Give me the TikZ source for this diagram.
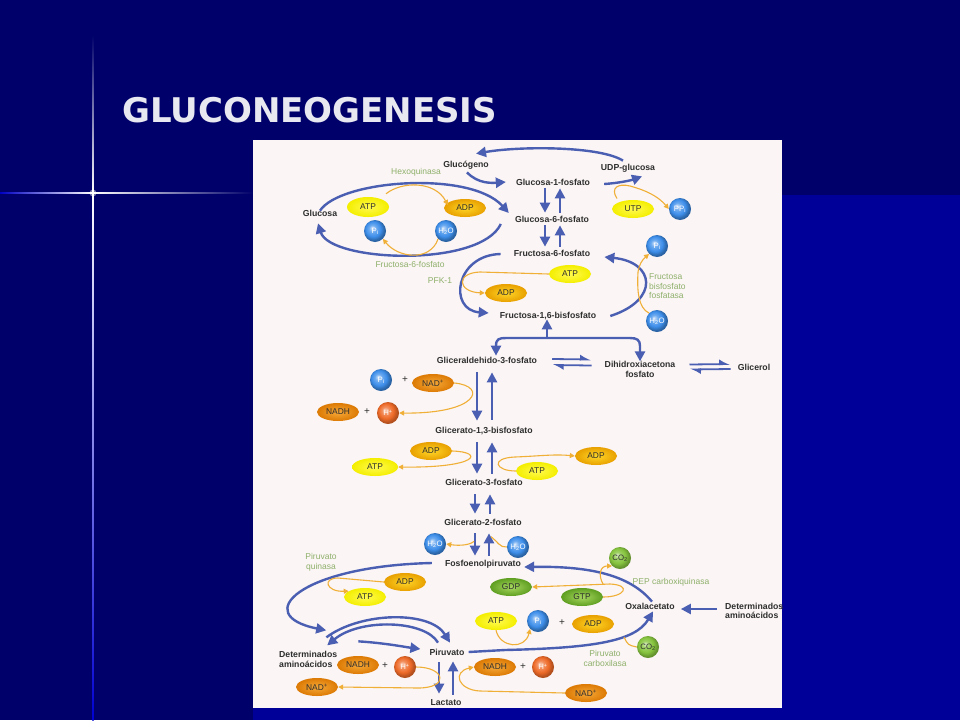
\documentclass[tikz,border=0pt]{standalone}
\usepackage{fontspec}
\setmainfont{Liberation Sans}
\newfontfamily\titlefont{DejaVu Sans}
\usetikzlibrary{arrows.meta,shapes.geometric,calc}
\definecolor{bgdark}{HTML}{00006A}
\definecolor{bgblue}{HTML}{000098}
\definecolor{panel}{HTML}{FBF5F5}
\definecolor{pathblue}{HTML}{4A5EB2}
\definecolor{orline}{HTML}{F0B038}
\definecolor{enzgreen}{HTML}{8EB06A}
\definecolor{mettext}{HTML}{2E2E2E}
\definecolor{atpyel}{HTML}{F4EE00}
\definecolor{atpin}{HTML}{FFFA50}
\definecolor{adpin}{HTML}{FFD628}
\definecolor{adpout}{HTML}{E8A000}
\definecolor{nadin}{HTML}{F6A838}
\definecolor{nadout}{HTML}{DC7A04}
\definecolor{grnin}{HTML}{A8D860}
\definecolor{grnout}{HTML}{5E9E20}
\definecolor{sphblue}{HTML}{3D8EEA}
\definecolor{sphred}{HTML}{EE6A28}
\definecolor{sphgreen}{HTML}{86C43E}
\definecolor{titletext}{HTML}{E8E8F0}
\pgfdeclareradialshading{sphB}{\pgfpoint{-7bp}{7bp}}{color(0bp)=(sphblue!25!white); color(8bp)=(sphblue!75!white); color(17bp)=(sphblue); color(25bp)=(sphblue!70!black); color(50bp)=(sphblue!70!black)}
\pgfdeclareradialshading{sphR}{\pgfpoint{-7bp}{7bp}}{color(0bp)=(sphred!30!white); color(8bp)=(sphred!75!white); color(17bp)=(sphred); color(25bp)=(sphred!75!black); color(50bp)=(sphred!75!black)}
\pgfdeclareradialshading{sphG}{\pgfpoint{-7bp}{7bp}}{color(0bp)=(sphgreen!30!white); color(8bp)=(sphgreen!80!white); color(17bp)=(sphgreen); color(25bp)=(sphgreen!75!black); color(50bp)=(sphgreen!75!black)}
\tikzset{
 met/.style={font=\fontsize{8.7}{9.5}\selectfont\bfseries, text=mettext, inner sep=1pt, text height=6.5pt, text depth=1.8pt},
 metml/.style={font=\fontsize{8.7}{9.5}\selectfont\bfseries, text=mettext, inner sep=1pt},
 enz/.style={font=\fontsize{8.5}{9.6}\selectfont, text=enzgreen, inner sep=1pt},
 oval/.style={ellipse, minimum width=42pt, minimum height=18pt, inner sep=0pt, font=\fontsize{8.4}{9}\selectfont, text=mettext},
 yel/.style={oval, inner color=atpin, outer color=atpyel},
 adp/.style={oval, inner color=adpin, outer color=adpout},
 nad/.style={oval, inner color=nadin, outer color=nadout},
 grn/.style={oval, inner color=grnin, outer color=grnout},
 sph/.style={circle, minimum size=22pt, inner sep=0pt, font=\fontsize{7.8}{9}\selectfont, text=white, shade},
 bsph/.style={sph, shading=sphB},
 hsph/.style={sph, shading=sphR},
 csph/.style={sph, shading=sphG, text=mettext},
 plus/.style={font=\fontsize{10}{11}\selectfont, text=mettext, inner sep=0pt},
 barrow/.style={draw=pathblue, line width=2.4pt, -{Triangle[length=10pt,width=10pt]}},
 bline/.style={draw=pathblue, line width=2.4pt},
 oarrow/.style={draw=orline, line width=1.1pt, -{Triangle[length=5pt,width=5pt]}},
 oline/.style={draw=orline, line width=1.1pt},
 harp/.style={draw=pathblue, line width=1.8pt, -{Latex[left,length=9pt,width=10pt]}}
}
\begin{document}
\begin{tikzpicture}[x=1pt,y=-1pt]
\useasboundingbox (0,0) rectangle (960,720);
% background
\fill[bgdark] (0,0) rectangle (960,720);
\fill[bgblue] (253,195) rectangle (960,720);
\shade[top color=bgdark, middle color=blue!60!white, bottom color=white] (92.4,35) rectangle (93.6,193);
\shade[top color=white, middle color=blue!55!white, bottom color=blue!70!bgdark] (92.4,193) rectangle (93.6,720);
\shade[left color=blue!60!bgdark, middle color=blue!55!white, right color=white] (0,192.4) rectangle (93,193.6);
\shade[left color=white, middle color=blue!55!white, right color=bgdark] (93,192.4) rectangle (253,193.6);
\fill[white, opacity=.45] (93,193) circle (3.5);
\fill[white] (93,193) circle (1.8);
% title
\node[anchor=base west, inner sep=0, font=\titlefont\bfseries\fontsize{34}{40}\selectfont, text=titletext] (title) at (122,122) {GLUCONEOGENESIS};
% panel
\fill[panel] (253,140) rectangle (782,708);

% metabolites
\node[met] (glycogen) at (466,165) {Glucógeno};
\node[met] (udpg) at (628,168) {UDP-glucosa};
\node[met] (g1p) at (553,183) {Glucosa-1-fosfato};
\node[met] (glc) at (320,214) {Glucosa};
\node[met] (g6p) at (552,220) {Glucosa-6-fosfato};
\node[met] (f6p) at (552,254) {Fructosa-6-fosfato};
\node[met] (f16bp) at (548,316) {Fructosa-1,6-bisfosfato};
\node[met] (gap) at (487,361) {Gliceraldehido-3-fosfato};
\node[metml, align=center] (dhap) at (640,369.5) {Dihidroxiacetona\\fosfato};
\node[met] (glycerol) at (754,368) {Glicerol};
\node[met] (bpg) at (484,431) {Glicerato-1,3-bisfosfato};
\node[met] (pg3) at (484,483) {Glicerato-3-fosfato};
\node[met] (pg2) at (483,523) {Glicerato-2-fosfato};
\node[met] (pep) at (483,564) {Fosfoenolpiruvato};
\node[met] (pyr) at (447,653) {Piruvato};
\node[met] (lac) at (446,703) {Lactato};
\node[met] (oaa) at (650,607) {Oxalacetato};
\node[metml, align=left, anchor=west] (aal) at (278,659.5) {Determinados\\aminoácidos};
\node[metml, align=left, anchor=west] (aar) at (724,611) {Determinados\\aminoácidos};

% enzymes
\node[enz] (hk) at (416,172) {Hexoquinasa};
\node[enz] (f6pase) at (410,264) {Fructosa-6-fosfato};
\node[enz] (pfk) at (440,281) {PFK-1};
\node[enz, align=left, anchor=west] (fbpase) at (648,286.5) {Fructosa\\bisfosfato\\fosfatasa};
\node[enz, align=center] (pk) at (321,562) {Piruvato\\quinasa};
\node[enz] (pepck) at (671,582) {PEP carboxiquinasa};
\node[enz, align=center] (pc) at (605,658.5) {Piruvato\\carboxilasa};

% cofactors
\node[yel, minimum height=20pt] (atp1) at (368,207) {ATP};
\node[adp] (adp1) at (465,208) {ADP};
\node[bsph] (pi1) at (375,231) {P\textsubscript{i}};
\node[bsph] (h2o1) at (446,231) {H\textsubscript{2}O};
\node[yel] (utp) at (633,209) {UTP};
\node[bsph] (ppi) at (680,209) {PP\textsubscript{i}};
\node[bsph] (pi2) at (657,246) {P\textsubscript{i}};
\node[bsph] (h2o2) at (657,321) {H\textsubscript{2}O};
\node[yel] (atp2) at (570,274) {ATP};
\node[adp] (adp2) at (506,293) {ADP};
\node[bsph] (pi3) at (381,380) {P\textsubscript{i}};
\node[plus] (plus1) at (405,380) {+};
\node[nad] (nad1) at (433,383) {NAD\textsuperscript{+}};
\node[nad] (nadh1) at (338,412) {NADH};
\node[plus] (plus2) at (367,412) {+};
\node[hsph] (h1) at (388,413) {H\textsuperscript{+}};
\node[adp] (adp3) at (431,451) {ADP};
\node[yel, minimum width=46pt] (atp3) at (375,467) {ATP};
\node[yel] (atp4) at (537,471) {ATP};
\node[adp] (adp4) at (596,456) {ADP};
\node[bsph] (h2o3) at (435,544) {H\textsubscript{2}O};
\node[bsph] (h2o4) at (518,547) {H\textsubscript{2}O};
\node[csph] (co2a) at (620,558) {CO\textsubscript{2}};
\node[grn] (gdp) at (511,587) {GDP};
\node[grn] (gtp) at (582,597) {GTP};
\node[adp] (adp5) at (405,582) {ADP};
\node[yel] (atp5) at (365,597) {ATP};
\node[yel] (atp6) at (496,621) {ATP};
\node[bsph] (pi4) at (538,621) {P\textsubscript{i}};
\node[plus] (plus3) at (562,623) {+};
\node[adp] (adp6) at (593,624) {ADP};
\node[csph] (co2b) at (648,647) {CO\textsubscript{2}};
\node[nad] (nadh2) at (358,665) {NADH};
\node[plus] (plus4) at (385,666) {+};
\node[hsph] (h2) at (405,667) {H\textsuperscript{+}};
\node[nad] (nad2) at (317,687) {NAD\textsuperscript{+}};
\node[nad] (nadh3) at (495,667) {NADH};
\node[plus] (plus5) at (523,667) {+};
\node[hsph] (h3) at (543,667) {H\textsuperscript{+}};
\node[nad] (nad3) at (586,693) {NAD\textsuperscript{+}};

% ---- blue connectors
\draw[barrow] ($(udpg.north)+(-5,-2)$) .. controls (600,146) and (520,146) .. ($(glycogen.north)+(10,-6)$);
\draw[barrow] ($(glycogen.south)+(1,2)$) .. controls (478,184) and (492,183) .. ($(g1p.west)+(-9,-1)$);
\draw[barrow] ($(g1p.east)+(13,1)$) .. controls (620,183) and (632,180) .. ($(udpg.south)+(14,3)$);
\draw[barrow] ($(g1p.south)+(-8,0)$) -- ($(g6p.north)+(-7,-2)$);
\draw[barrow] ($(g6p.north)+(8,-2)$) -- ($(g1p.south)+(7,0)$);
\draw[barrow] ($(g6p.south)+(-7,0)$) -- ($(f6p.north)+(-7,-2)$);
\draw[barrow] ($(f6p.north)+(8,-2)$) -- ($(g6p.south)+(8,0)$);
\draw[barrow] ($(glc.north)+(0,2)$) .. controls (340,180) and (470,170) .. ($(g6p.west)+(-5,-7)$);
\draw[barrow] ($(g6p.west)+(-13,4)$) .. controls (480,268) and (330,262) .. ($(glc.south)+(-2,4)$);
\draw[barrow] ($(f6p.west)+(-12,0)$) .. controls (455,255) and (448,310) .. ($(f16bp.west)+(-10,-3)$);
\draw[barrow] ($(f16bp.east)+(13,0)$) .. controls (660,300) and (655,262) .. ($(f6p.east)+(13,3)$);
\draw[bline, {Triangle[length=10pt,width=10pt]}-{Triangle[length=10pt,width=10pt]}] ($(gap.north)+(9,0)$) -- (496,346) .. controls (496,339) and (499,338) .. (506,338) -- (630,338) .. controls (637,338) and (640,340) .. (640,346) -- ($(dhap.north)+(0,1)$);
\draw[barrow] (547,338) -- ($(f16bp.south)+(-1,-2)$);
\draw[harp] ($(gap.east)+(14,-2)$) -- ($(dhap.west)+(-12,-10)$);
\draw[harp] ($(dhap.west)+(-12,-4)$) -- ($(gap.east)+(14,4)$);
\draw[harp] ($(dhap.east)+(13,-5)$) -- ($(glycerol.west)+(-6,-4)$);
\draw[harp] ($(glycerol.west)+(-6,1)$) -- ($(dhap.east)+(13,0)$);
% glycolytic trunk
\draw[barrow] ($(gap.south)+(-10,6)$) -- ($(bpg.north)+(-7,-5)$);
\draw[barrow] ($(bpg.north)+(8,-6)$) -- ($(gap.south)+(5,6)$);
\draw[barrow] ($(bpg.south)+(-7,6)$) -- ($(pg3.north)+(-7,-4)$);
\draw[barrow] ($(pg3.north)+(8,-4)$) -- ($(bpg.south)+(8,6)$);
\draw[barrow] ($(pg3.south)+(-9,6)$) -- ($(pg2.north)+(-8,-4)$);
\draw[barrow] ($(pg2.north)+(7,-4)$) -- ($(pg3.south)+(6,6)$);
\draw[barrow] ($(pg2.south)+(-8,5)$) -- ($(pep.north)+(-8,-3)$);
\draw[barrow] ($(pep.north)+(6,-3)$) -- ($(pg2.south)+(6,5)$);
% pyruvate region
\draw[barrow] ($(pep.west)+(-12,-1)$) .. controls (300,566) and (250,615) .. ($(aal.north)+(18,-20)$);
\draw[barrow] ($(aal.north east)+(-12,-13)$) .. controls (360,612) and (430,610) .. ($(pyr.north)+(3,-5)$);
\draw[barrow] ($(pyr.north)+(-9,-5)$) .. controls (425,620) and (360,618) .. ($(aal.north)+(19,-5)$);
\draw[barrow] ($(aal.north east)+(20,-9)$) .. controls (385,643) and (405,647) .. ($(pyr.west)+(-8,-4)$);
\draw[barrow] ($(pyr.south)+(-8,4)$) -- ($(lac.north)+(-7,-4)$);
\draw[barrow] ($(lac.north)+(7,-3)$) -- ($(pyr.south)+(6,3)$);
\draw[barrow] ($(pyr.east)+(3,-1)$) -- (505,650) .. controls (590,648) and (635,642) .. ($(oaa.south)+(3,-1)$);
\draw[barrow] ($(oaa.north)+(2,0)$) .. controls (630,575) and (590,566) .. ($(pep.east)+(2,3)$);
\draw[barrow] ($(aar.west)+(-7,-2)$) -- ($(oaa.east)+(5,2)$);

% ---- orange connectors
\draw[oarrow] ($(atp1.north east)+(3,-6)$) .. controls (402,181) and (435,181) .. ($(adp1.west)+(4,-3)$);
\draw[oarrow] (h2o1.south west) .. controls (430,262) and (398,258) .. (pi1.south east);
\draw[oarrow] ($(utp.north west)+(-1,-4)$) .. controls (610,188) and (618,183) .. (630,186) .. controls (645,190) and (658,196) .. (ppi.west);
\draw[oarrow] (h2o2.north west) .. controls (638,308) and (637,290) .. (638,272) .. controls (639,265) and (642,260) .. (pi2.south west);
\draw[oarrow] (atp2.west) -- (480,272) .. controls (455,273) and (458,292) .. (adp2.west);
\draw[oarrow] (nad1.east) .. controls (488,386) and (478,414) .. (h1.east);
\draw[oarrow] (adp3.east) .. controls (485,452) and (478,468) .. (atp3.east);
\draw[oarrow] (atp4.west) .. controls (495,471) and (490,458) .. (515,457) .. controls (540,456) and (555,454) .. (adp4.west);
\draw[oarrow] ($(pg2.south)+(-9,13)$) .. controls (470,545) and (460,546) .. (h2o3.east);
\draw[oline] (h2o4.west) .. controls (500,548) and (497,541) .. ($(pep.north)+(8,-22)$);
\draw[oarrow] (gtp.east) .. controls (625,597) and (632,585) .. (610,584) -- (gdp.east);
\draw[oarrow] (603,584) .. controls (598,575) and (600,566) .. (co2a.south west);
\draw[oarrow] (adp5.west) -- (338,578) .. controls (322,578) and (326,592) .. (atp5.160);
\draw[oarrow] (atp6.south) .. controls (500,648) and (525,650) .. (pi4.south west);
\draw[oline] (co2b.west) .. controls (628,645) .. (624,637);
\draw[oarrow] (h2.east) .. controls (445,667) and (450,688) .. (418,688) -- (nad2.east);
\draw[oarrow] (nad3.west) -- (480,691) .. controls (458,690) and (452,672) .. (nadh3.west);
\end{tikzpicture}
\end{document}
